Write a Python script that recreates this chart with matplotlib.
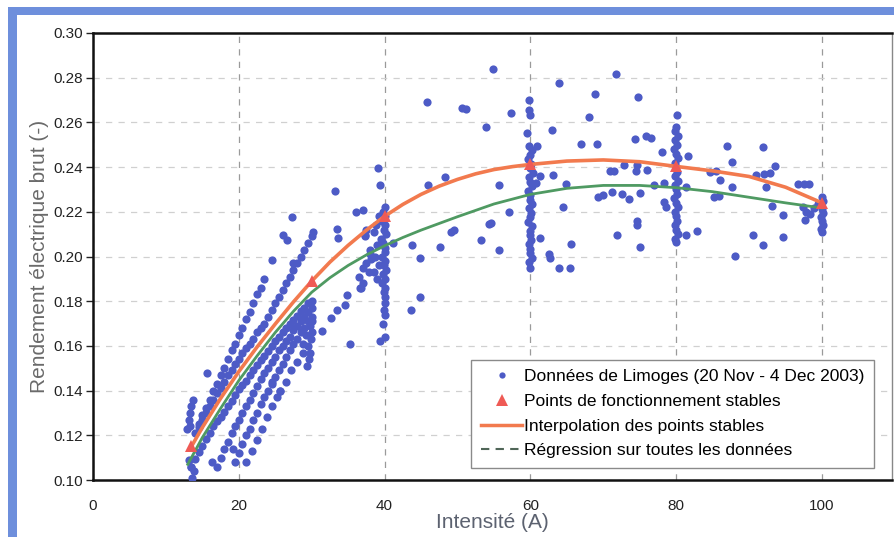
import matplotlib
matplotlib.use("Agg")
import matplotlib.pyplot as plt
from matplotlib.lines import Line2D
from matplotlib.patches import Rectangle

plt.rcParams['font.family'] = ['Liberation Sans', 'DejaVu Sans']

# ---------------- data ----------------
# low-current streaks (13-30 A)
band_a_I = [12.9, 13.1, 13.3, 13.5, 13.7, 13.3, 13.6, 13.8, 13.5, 13.2,
            14.0, 14.5, 15.0, 15.5, 16.0, 16.5, 17.0, 17.5, 18.0, 18.5,
            19.0, 19.5, 20.0, 20.5, 21.0, 21.5, 22.0, 22.5, 23.0, 23.5]
band_a_v = [0.123, 0.127, 0.130, 0.133, 0.136, 0.124, 0.101, 0.104, 0.106, 0.109,
            0.121, 0.125, 0.129, 0.132, 0.136, 0.140, 0.143, 0.147, 0.150, 0.154,
            0.158, 0.161, 0.165, 0.168, 0.172, 0.175, 0.179, 0.183, 0.186, 0.190]
band_b_I = [14.5, 15.0, 15.5, 16.0, 16.5, 17.0, 17.5, 18.0, 18.5, 19.0, 19.5,
            20.0, 20.5, 21.0, 21.5, 22.0, 22.5, 23.0, 23.5, 24.0, 24.5, 25.0,
            25.5, 26.0, 26.5, 27.0, 27.5, 28.0, 28.5, 29.0, 29.5, 30.0, 30.2]
band_b_v = [0.1235, 0.127, 0.130, 0.133, 0.136, 0.139, 0.141, 0.144, 0.147, 0.149, 0.152,
            0.154, 0.157, 0.159, 0.161, 0.163, 0.166, 0.168, 0.170, 0.173, 0.176, 0.179,
            0.182, 0.185, 0.188, 0.191, 0.194, 0.197, 0.200, 0.203, 0.206, 0.209, 0.211]
band_c0_I = [13.5, 14.0, 14.5, 15.0, 15.5, 16.0, 16.5, 17.0, 17.5, 18.0, 18.5, 19.0,
             19.5, 20.0, 20.5, 21.0, 21.5, 22.0, 22.5, 23.0, 23.5, 24.0, 24.5, 25.0,
             25.5, 26.0, 26.5, 27.0, 27.5, 28.0, 28.5, 29.0, 29.5, 30.0]
band_c0_v = [0.106, 0.1095, 0.1125, 0.115, 0.1185, 0.121, 0.124, 0.1265, 0.128, 0.1305, 0.133, 0.1355,
             0.138, 0.1405, 0.1425, 0.1445, 0.147, 0.149, 0.1515, 0.1535, 0.1555, 0.1575, 0.160, 0.162,
             0.164, 0.166, 0.168, 0.170, 0.1715, 0.1735, 0.1755, 0.177, 0.179, 0.180]
band_c_I = [17.0, 17.5, 18.0, 18.5, 19.0, 19.5, 20.0, 20.5, 21.0, 21.5, 22.0, 22.5,
            23.0, 23.5, 24.0, 24.5, 25.0, 25.5, 26.0, 26.5, 27.0, 27.5, 28.0, 28.5,
            29.0, 29.5, 30.0]
band_c_v = [0.106, 0.110, 0.114, 0.117, 0.121, 0.124, 0.127, 0.130, 0.133, 0.136, 0.139, 0.142,
            0.145, 0.148, 0.150, 0.153, 0.155, 0.158, 0.160, 0.162, 0.164, 0.167, 0.169, 0.171,
            0.173, 0.175, 0.177]
band_d_I = [19.5, 20.0, 20.5, 21.0, 21.5, 22.0, 22.5, 23.0, 23.5, 24.0, 24.5,
            25.0, 25.5, 26.0, 26.5, 27.0, 27.5, 28.0, 28.5, 29.0, 29.5, 30.0]
band_d_v = [0.108, 0.112, 0.116, 0.120, 0.123, 0.127, 0.130, 0.134, 0.137, 0.140, 0.143,
            0.146, 0.149, 0.152, 0.155, 0.158, 0.161, 0.163, 0.166, 0.168, 0.171, 0.173]
band_e_I = [21.0, 21.8, 22.5, 23.2, 23.9, 24.6, 25.3, 25.7, 26.5, 27.2, 28.0, 28.8,
            29.3, 29.6, 29.8, 29.5, 29.9, 30.0, 29.7, 30.1, 29.2, 28.8,
            15.6, 16.3, 19.2]
band_e_v = [0.108, 0.113, 0.118, 0.123, 0.128, 0.133, 0.137, 0.140, 0.144, 0.149, 0.153, 0.157,
            0.151, 0.154, 0.157, 0.160, 0.163, 0.166, 0.169, 0.171, 0.165, 0.161,
            0.148, 0.108, 0.114]

# vertical clusters of measurements
col40_I = [40.0, 39.8, 40.1, 39.6, 40.0, 39.9, 40.2, 39.5, 39.8, 40.0, 40.1, 39.7, 40.0,
           39.9, 40.2, 39.8, 40.0, 39.6, 40.1, 39.9, 40.0, 40.0, 39.9, 40.1, 39.8, 40.0,
           38.8, 39.2, 38.6, 39.0, 38.7, 39.2, 38.5, 39.0, 38.2, 37.5, 37.3, 38.0,
           36.5, 37.0, 37.5, 38.0, 36.8, 37.8]
col40_v = [0.222, 0.220, 0.218, 0.216, 0.214, 0.212, 0.210, 0.208, 0.206, 0.204, 0.202, 0.200, 0.198,
           0.196, 0.194, 0.192, 0.190, 0.188, 0.186, 0.184, 0.182, 0.179, 0.176, 0.174, 0.170, 0.164,
           0.214, 0.218, 0.211, 0.205, 0.200, 0.196, 0.193, 0.190, 0.199, 0.212, 0.209, 0.203,
           0.191, 0.195, 0.197, 0.201, 0.186, 0.193]
col60_I = [59.8, 60.2, 60.0, 59.7, 60.1, 59.9, 60.3, 59.8, 60.0, 60.2, 59.7, 60.0, 59.9,
           60.2, 59.8, 60.1, 60.0, 59.7, 60.2, 59.9, 60.0, 60.1, 59.8, 60.0, 59.9, 60.2,
           59.8, 59.8, 59.8, 59.9, 59.5, 60.0]
col60_v = [0.2495, 0.2475, 0.2455, 0.2435, 0.2415, 0.2395, 0.2375, 0.2355, 0.2335, 0.2315, 0.2295, 0.2275, 0.2255,
           0.2235, 0.2215, 0.2195, 0.2175, 0.2155, 0.2135, 0.2115, 0.2095, 0.2075, 0.2055, 0.2035, 0.2015, 0.1995,
           0.1975, 0.2700, 0.2655, 0.2634, 0.2553, 0.1950]
col80_I = [80.0, 79.8, 80.2, 79.9, 80.1, 79.7, 80.0, 80.2, 79.8, 80.0, 80.1, 79.9, 80.2, 79.8,
           80.0, 80.1, 79.7, 80.0, 80.2, 79.9, 80.0, 80.1, 79.8, 80.0, 80.2, 79.9, 80.0, 80.1]
col80_v = [0.2580, 0.2560, 0.2540, 0.2520, 0.2500, 0.2480, 0.2460, 0.2440, 0.2420, 0.2400, 0.2380, 0.2360, 0.2340, 0.2320,
           0.2300, 0.2280, 0.2260, 0.2240, 0.2220, 0.2200, 0.2180, 0.2160, 0.2140, 0.2120, 0.2100, 0.2080, 0.2065, 0.2633]
col100_I = [100.0, 100.1, 99.9, 100.0, 100.1, 99.9, 100.0, 100.1, 99.9, 100.0, 99.4, 98.9]
col100_v = [0.2266, 0.2248, 0.2230, 0.2212, 0.2195, 0.2178, 0.2160, 0.2143, 0.2125, 0.2108, 0.2235, 0.2215]

# scattered measurements
scat_I = [45.8, 50.6, 51.1, 54.8, 57.4, 53.9, 48.3, 45.9, 55.7, 57.0, 54.3, 54.6, 49.1, 49.5,
          53.2, 55.7, 47.6, 43.7, 44.9, 41.2, 44.9, 43.6,
          60.9, 61.3, 60.8, 63.1, 63.0, 63.9, 64.9, 64.5, 61.3, 65.5, 62.5, 62.7, 63.9, 65.4,
          66.9, 68.1, 68.9, 69.2, 71.8, 74.7, 74.3, 75.8, 76.6, 78.1, 70.9, 71.4, 72.9, 74.6,
          74.5, 76.0, 69.3, 70.0, 71.2, 72.6, 73.5, 75.0, 76.9, 78.3, 74.6, 74.6, 71.9, 75.0,
          78.3, 78.6,
          81.6, 81.4, 82.8, 81.4, 87.0, 87.6, 84.7, 85.4, 86.0, 87.7, 85.9, 85.2, 88.1, 91.9,
          93.6, 90.9, 92.0, 92.8, 92.3, 93.1, 94.6, 90.6, 91.9, 94.6, 96.7, 97.5, 98.2, 97.8,
          97.6, 98.3, 97.4,
          33.2, 39.1, 39.4, 36.1, 37.1, 33.5, 33.6, 37.3, 27.3, 26.1, 26.6, 24.5, 27.4, 35.3,
          39.4, 36.6, 34.6, 32.7, 31.4, 34.8, 37.0, 33.5, 25.7, 24.5]
scat_v = [0.2693, 0.2663, 0.2660, 0.2839, 0.2641, 0.2580, 0.2356, 0.2320, 0.2318, 0.2200, 0.2145, 0.2150, 0.2111, 0.2120,
          0.2073, 0.2028, 0.2044, 0.2053, 0.1995, 0.2059, 0.1820, 0.1762,
          0.2495, 0.2360, 0.2330, 0.2365, 0.2566, 0.2778, 0.2326, 0.2223, 0.2081, 0.2058, 0.2011, 0.1992, 0.1950, 0.1950,
          0.2503, 0.2622, 0.2728, 0.2503, 0.2816, 0.2715, 0.2524, 0.2541, 0.2530, 0.2467, 0.2384, 0.2384, 0.2409, 0.2410,
          0.2384, 0.2388, 0.2266, 0.2275, 0.2288, 0.2278, 0.2256, 0.2282, 0.2318, 0.2330, 0.2160, 0.2140, 0.2096, 0.2041,
          0.2246, 0.2220,
          0.2449, 0.2313, 0.2115, 0.2094, 0.2493, 0.2425, 0.2377, 0.2382, 0.2341, 0.2312, 0.2272, 0.2268, 0.2002, 0.2488,
          0.2403, 0.2363, 0.2368, 0.2374, 0.2312, 0.2226, 0.2184, 0.2094, 0.2053, 0.2087, 0.2325, 0.2324, 0.2324, 0.2200,
          0.2163, 0.2189, 0.2223,
          0.2294, 0.2397, 0.2318, 0.2201, 0.2210, 0.2125, 0.2081, 0.2096, 0.2176, 0.2096, 0.2074, 0.1986, 0.1970, 0.1609,
          0.1623, 0.1860, 0.1784, 0.1725, 0.1668, 0.1828, 0.1880, 0.1760, 0.1397, 0.1440]

# stable operating points
stable_I = [13.5, 30, 40, 60, 80, 100]
stable_v = [0.115, 0.189, 0.218, 0.2412, 0.2403, 0.224]

# interpolation through stable points
interp_I = [13.5, 15, 17.5, 20, 22.5, 25, 27.5, 30, 32.5, 35, 37.5, 40, 42.5, 45, 47.5,
            50, 52.5, 55, 57.5, 60, 65, 70, 75, 80, 85, 90, 95, 100]
interp_v = [0.115, 0.1235, 0.1365, 0.1485, 0.1595, 0.1698, 0.1797, 0.189, 0.1975, 0.2050,
            0.2118, 0.218, 0.2233, 0.2278, 0.2315, 0.2345, 0.2370, 0.2389, 0.2402, 0.2412,
            0.2427, 0.2432, 0.2424, 0.2403, 0.2383, 0.2358, 0.2310, 0.2240]

# regression on all data
regr_I = [13, 13.5, 15, 17.5, 20, 22.5, 25, 27.5, 30, 32.5, 35, 37.5, 40, 42.5, 45, 47.5,
          50, 55, 60, 65, 70, 75, 80, 85, 90, 95, 100]
regr_v = [0.107, 0.110, 0.119, 0.132, 0.1445, 0.1555, 0.166, 0.1755, 0.184, 0.1905, 0.1960,
          0.2007, 0.2048, 0.2085, 0.2118, 0.2148, 0.2178, 0.2235, 0.2278, 0.2305, 0.2318,
          0.2318, 0.2308, 0.2290, 0.2265, 0.2240, 0.2217]

x_ticks = [0, 20, 40, 60, 80, 100]
y_ticks = [0.10, 0.12, 0.14, 0.16, 0.18, 0.20, 0.22, 0.24, 0.26, 0.28, 0.30]

legend_labels = ["Données de Limoges (20 Nov - 4 Dec 2003)",
                 "Points de fonctionnement stables",
                 "Interpolation des points stables",
                 "Régression sur toutes les données"]

# ---------------- figure ----------------
BLUE = '#4d5bc6'
RED = '#ef5a55'
ORANGE = '#f27a4e'
GREEN = '#4f9a62'

fig = plt.figure(figsize=(8.94, 5.37), dpi=100)
fig.patch.set_facecolor('white')
ax = fig.add_axes([93 / 894, 1 - 480 / 537, (892 - 93) / 894, (480 - 33) / 537])

# blue frame of the original figure
fig.patches.append(Rectangle((8 / 894, 0), 9 / 894, 1 - 7 / 537, transform=fig.transFigure,
                             facecolor='#6e8fdc', edgecolor='none', zorder=0))
fig.patches.append(Rectangle((8 / 894, 1 - 15 / 537), 1, 8 / 537, transform=fig.transFigure,
                             facecolor='#6e8fdc', edgecolor='none', zorder=0))

all_I = band_a_I + band_b_I + band_c0_I + band_c_I + band_d_I + band_e_I + \
    col40_I + col60_I + col80_I + col100_I + scat_I
all_v = band_a_v + band_b_v + band_c0_v + band_c_v + band_d_v + band_e_v + \
    col40_v + col60_v + col80_v + col100_v + scat_v

ax.plot(all_I, all_v, 'o', color=BLUE, markersize=5.9, markeredgewidth=0, zorder=3)
ax.plot(interp_I, interp_v, '-', color=ORANGE, lw=2.6, zorder=4)
ax.plot(regr_I, regr_v, '-', color=GREEN, lw=2.0, zorder=4)
ax.plot(stable_I, stable_v, '^', color=RED, markersize=9, markeredgewidth=0, zorder=5)

ax.set_xlim(0, 109.6)
ax.set_ylim(0.10, 0.30)
ax.set_xticks(x_ticks)
ax.set_yticks(y_ticks)
ax.set_yticklabels([f"{t:.2f}" for t in y_ticks])
ax.tick_params(axis='x', length=0, pad=14, labelsize=11, colors='#222222')
ax.tick_params(axis='y', length=5, width=1, pad=2, labelsize=11, colors='#222222')

ax.grid(axis='x', linestyle=(0, (5, 5)), color='#9a9a9a', lw=0.9)
ax.grid(axis='y', linestyle=(0, (5, 5)), color='#d0d0d0', lw=0.9)
ax.set_axisbelow(True)

for s in ['left', 'bottom', 'top']:
    ax.spines[s].set_color('#111111')
    ax.spines[s].set_linewidth(1.8)
ax.spines['right'].set_color('#888888')
ax.spines['right'].set_linewidth(1.0)

ax.set_xlabel("Intensité (A)", fontsize=15, color='#5c6270', labelpad=0)
ax.set_ylabel("Rendement électrique brut (-)", fontsize=15, color='#6a6a6a', labelpad=3)

handles = [Line2D([], [], marker='o', ls='none', color=BLUE, markersize=4.5, markeredgewidth=0),
           Line2D([], [], marker='^', ls='none', color=RED, markersize=8, markeredgewidth=0),
           Line2D([], [], color=ORANGE, lw=2.5),
           Line2D([], [], color='#506658', lw=1.5, ls=(0, (4, 3)))]
leg = ax.legend(handles, legend_labels, loc='lower right', bbox_to_anchor=(0.9775, 0.027),
                borderaxespad=0, fontsize=12.5, frameon=True, fancybox=False,
                handlelength=2.4, handletextpad=0.1, borderpad=0.55, labelspacing=0.55)
leg.get_frame().set_edgecolor('#8a8a8a')
leg.get_frame().set_linewidth(1.0)
leg.get_frame().set_facecolor('white')
leg.get_frame().set_alpha(1)
leg.set_zorder(10)

fig.savefig("out.png", dpi=100)
